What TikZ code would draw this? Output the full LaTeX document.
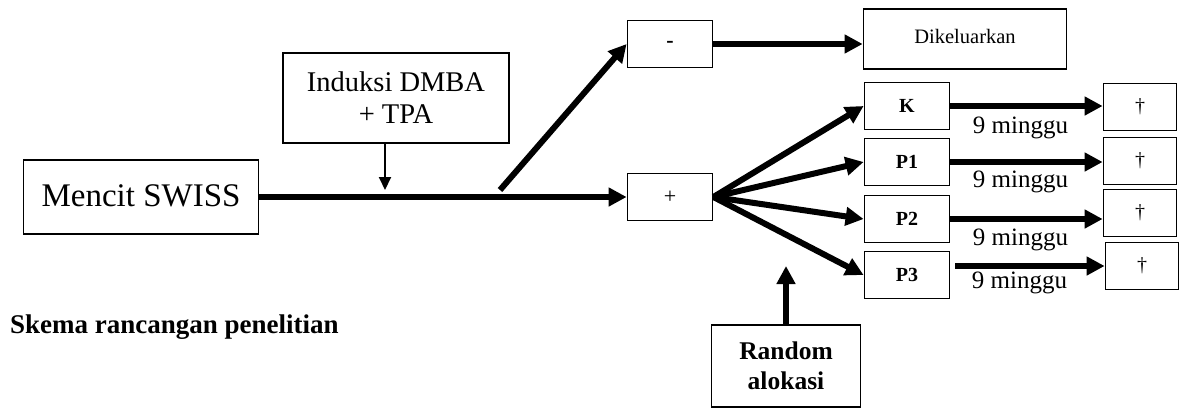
\documentclass[tikz,border=0pt]{standalone}
\usepackage{fontspec}
\setmainfont{Liberation Serif}
\usetikzlibrary{arrows.meta,positioning}

\begin{document}
\begin{tikzpicture}[
    x=1pt, y=-1pt,
    box/.style={draw, line width=1.8pt, inner sep=0pt, align=center},
    grp/.style={box, minimum width=85pt, minimum height=47pt, font=\fontsize{20}{24}\selectfont\bfseries},
    endbox/.style={box, minimum width=73pt, minimum height=47pt, font=\fontsize{20}{24}\selectfont},
    fat/.style={line width=6pt, -{Triangle[length=18pt,width=18pt]}},
    thin/.style={line width=2pt, -{Triangle[length=13pt,width=12pt]}},
    lbl/.style={font=\fontsize{25}{28}\selectfont, inner sep=0pt}
  ]
  \useasboundingbox (0,0) rectangle (1182,407);

  % left part
  \node[box, minimum width=235pt, minimum height=74pt, font=\fontsize{33}{38}\selectfont] (mencit) at (141,197) {\raisebox{3pt}{Mencit SWISS}};
  \node[box, minimum width=226pt, minimum height=90pt, font=\fontsize{28.5}{32}\selectfont] (induksi) at (396,98) {Induksi DMBA\\+ TPA};
  \coordinate (tpa) at (385,190);
  \coordinate (split) at (500,190);

  % selection
  \node[box, minimum width=85pt, minimum height=47pt, font=\fontsize{22}{24}\selectfont\bfseries] (minus) at (670,44) {-};
  \node[box, minimum width=85pt, minimum height=47pt, font=\fontsize{22}{24}\selectfont] (plus) at (670,197) {+};
  \node[box, minimum width=203pt, minimum height=60pt, font=\fontsize{20.5}{24}\selectfont] (keluar) at (965,39) {\raisebox{5pt}{Dikeluarkan}};

  % groups
  \node[grp] (k)  at (907,106) {K};
  \node[grp] (p1) at (907,162) {P1};
  \node[grp] (p2) at (907,219) {P2};
  \node[grp] (p3) at (907,275) {P3};
  \node[endbox] (mk)  at (1140,107) {\dag};
  \node[endbox] (mp1) at (1140,161) {\dag};
  \node[endbox] (mp2) at (1140,213) {\dag};
  \node[endbox] (mp3) at (1142,266) {\dag};

  \node[box, minimum width=149pt, minimum height=82pt, font=\fontsize{25.5}{30}\selectfont\bfseries] (random) at (786,366) {Random\\alokasi};
  \coordinate (alok) at (786,266);

  \node[anchor=west, inner sep=0pt, font=\fontsize{27}{30}\selectfont\bfseries] (judul) at (10,327) {Skema rancangan penelitian};

  % connectors
  \draw[thin] (induksi.south -| tpa) -- (tpa);
  \draw[fat] (mencit.east) -- (plus.west);
  \draw[fat] (split) -- (minus.west);
  \draw[fat] (minus.east) -- (minus.east -| keluar.west);
  \foreach \g in {k,p1,p2,p3}
    \draw[fat] (plus.east) -- (\g.west);
  \draw[fat] (k.east) -- (k.east -| mk.west) node[lbl, midway, below=8pt, xshift=-6pt] {9 minggu};
  \draw[fat] (p1.east) -- (p1.east -| mp1.west) node[lbl, midway, below=6pt, xshift=-6pt] {9 minggu};
  \draw[fat] (p2.east) -- (p2.east -| mp2.west) node[lbl, midway, below=7pt, xshift=-6pt] {9 minggu};
  \draw[fat, shorten <=5pt] (mp3.west -| p3.east) -- (mp3.west) node[lbl, midway, below=3pt, xshift=-8pt] {9 minggu};
  \draw[fat] (random.north) -- (alok);
\end{tikzpicture}
\end{document}
